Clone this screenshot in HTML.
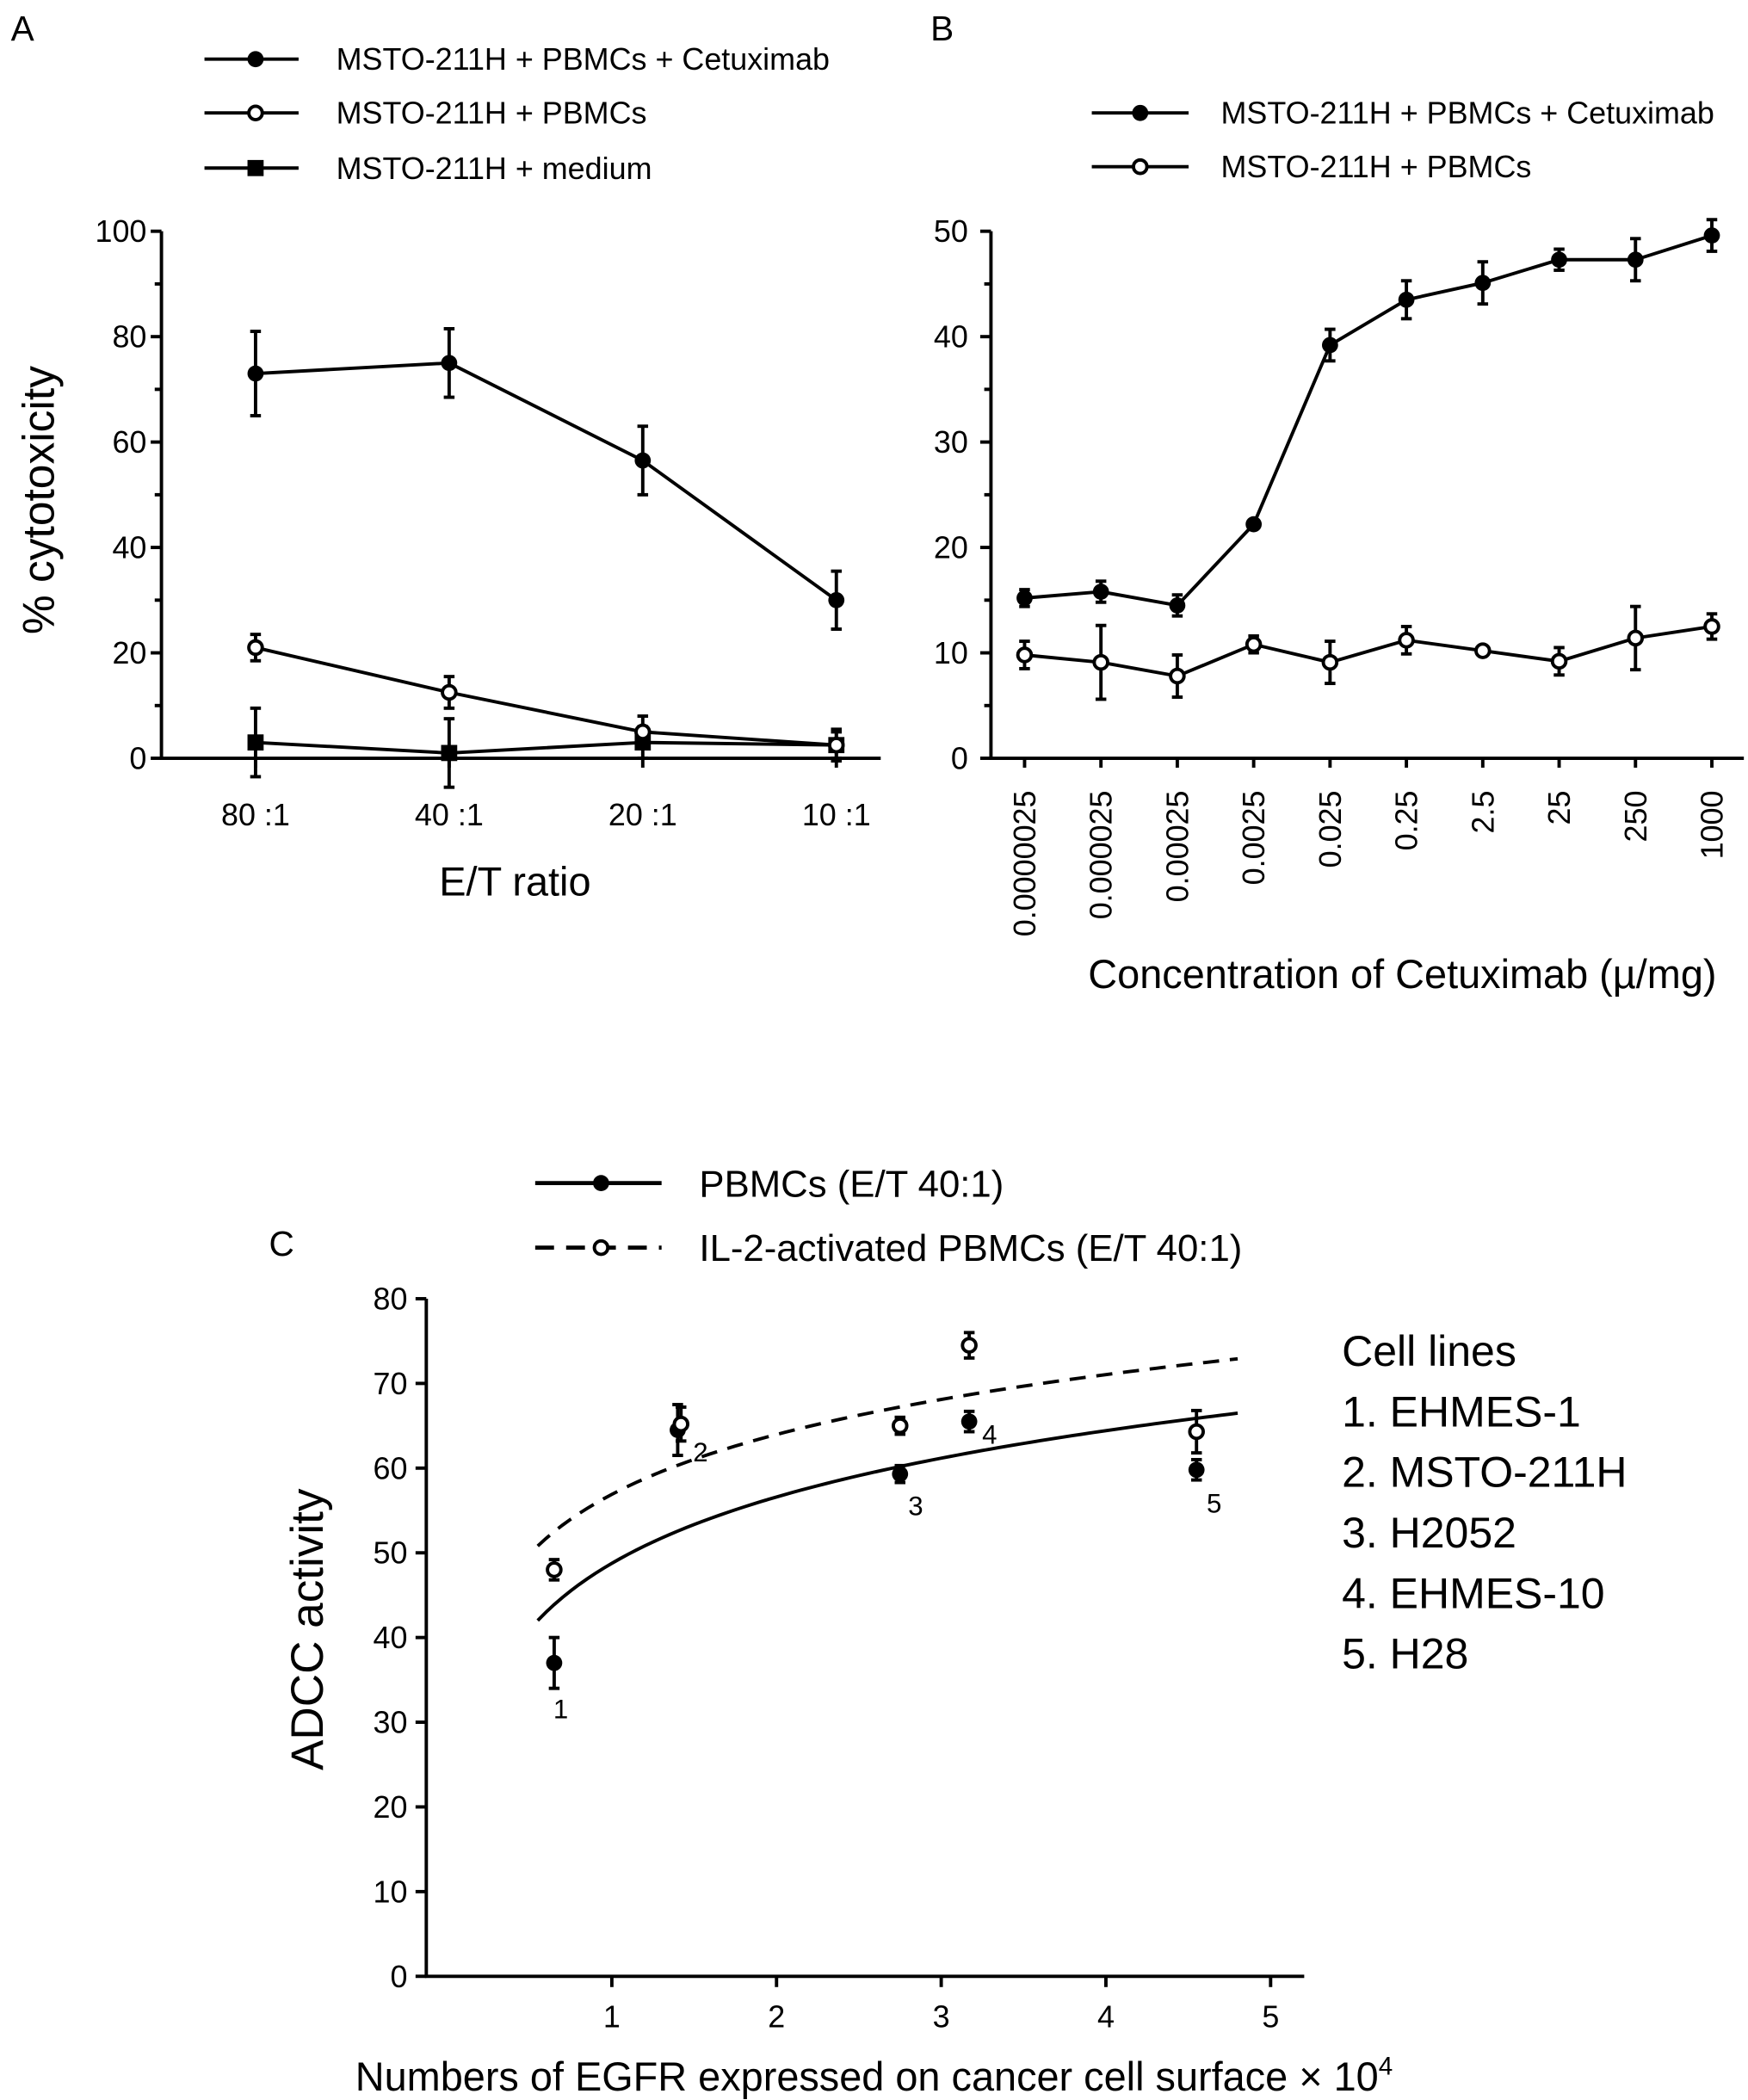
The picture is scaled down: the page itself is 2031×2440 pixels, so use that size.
<!DOCTYPE html>
<html><head><meta charset="utf-8"><style>
html,body{margin:0;padding:0;background:#fff}
svg{display:block;font-family:"Liberation Sans",sans-serif}
</style></head><body>
<svg id="fig" width="2031" height="2440" viewBox="0 0 1300 1562" xmlns="http://www.w3.org/2000/svg">
<g id="root"></g>
</svg>
<script>
// Panel A data
const aCats = ["80 :1","40 :1","20 :1","10 :1"];
const aCetux = [73,75,56.5,30];
const aCetuxErr = [8,6.5,6.5,5.5];
const aPbmc = [21,12.5,5,2.5];
const aPbmcErr = [2.5,3,3,2.5];
const aMed = [3,1,3,2.5];
const aMedErr = [6.5,6.5,3,3];
const aTicks = [0,20,40,60,80,100];
// Panel B data
const bCats = ["0.0000025","0.000025","0.00025","0.0025","0.025","0.25","2.5","25","250","1000"];
const bCetux = [15.2,15.8,14.5,22.2,39.2,43.5,45.1,47.3,47.3,49.6];
const bCetuxErr = [0.8,1,1,0,1.5,1.8,2,1,2,1.5];
const bPbmc = [9.8,9.1,7.8,10.8,9.1,11.2,10.2,9.2,11.4,12.5];
const bPbmcErr = [1.3,3.5,2,0.8,2,1.3,0.3,1.3,3,1.2];
const bTicks = [0,10,20,30,40,50];
// Panel C data
const cX = [0.65,1.4,2.75,3.17,4.55];
const cPbmc = [37,64.5,59.3,65.5,59.8];
const cPbmcErr = [3,3,1,1.2,1.2];
const cX2 = [0.65,1.42,2.75,3.17,4.55];
const cIl2 = [48,65.2,65,74.5,64.3];
const cIl2Err = [1.2,2,1,1.5,2.5];
const cFitSolid = [48.76,11.3];
const cFitDash = [56.9,10.2];
const cYTicks = [0,10,20,30,40,50,60,70,80];
const cXTicks = [1,2,3,4,5];
const cellLines = ["1. EHMES-1","2. MSTO-211H","3. H2052","4. EHMES-10","5. H28"];

const NS="http://www.w3.org/2000/svg";
const root=document.getElementById('root');
function el(tag,attrs,text){const e=document.createElementNS(NS,tag);for(const k in attrs)e.setAttribute(k,attrs[k]);if(text!==undefined)e.textContent=text;root.appendChild(e);return e;}
function line(x1,y1,x2,y2,w,dash){return el('line',{x1,y1,x2,y2,stroke:'#000','stroke-width':w||2.5,'stroke-dasharray':dash||'none'});}
function txt(x,y,s,size,anchor,rot){const a={x,y,'font-size':size,'text-anchor':anchor||'start',fill:'#000'};if(rot)a.transform=`rotate(${rot} ${x} ${y})`;return el('text',a,s);}
function marker(x,y,type){
  if(type==='filled')return el('circle',{cx:x,cy:y,r:6,fill:'#000'});
  if(type==='open')return el('circle',{cx:x,cy:y,r:5,fill:'#fff',stroke:'#000','stroke-width':2.5});
  return el('rect',{x:x-6,y:y-6,width:12,height:12,fill:'#000'});
}
function errbar(x,y,e,sy){if(e<=0)return;const y1=sy(y-e),y2=sy(y+e);line(x,y1,x,y2,2.5);line(x-4,y1,x+4,y1,2.5);line(x-4,y2,x+4,y2,2.5);}
function series(xs,ys,es,sx,sy,type,name){
  const pts=ys.map((v,i)=>sx(i)+','+sy(v)).join(' ');
  const p=el('polyline',{points:pts,fill:'none',stroke:'#000','stroke-width':2.5});
  
  
  ys.forEach((v,i)=>{errbar(sx(i),v,es[i],sy);const m=marker(sx(i),sy(v),type);
    
    });
}

// ---------- Panel A ----------
txt(8,30,"A",26);
const axA=x=>190+x*144;
const syA=v=>564-v*3.92;
line(120,172,120,565);line(119,564,655,564);
aTicks.forEach(t=>{line(112,syA(t),120,syA(t));txt(109,syA(t)+8,String(t),23,'end');});
[10,30,50,70,90].forEach(t=>line(115,syA(t),120,syA(t)));
aCats.forEach((c,i)=>{line(axA(i),564,axA(i),571);txt(axA(i),614,c,23,'middle');});
txt(383,666,"E/T ratio",30,'middle');
txt(40,372,"% cytotoxicity",33,'middle',-90);
series(null,aMed,aMedErr,axA,syA,'square','a-medium');
series(null,aPbmc,aPbmcErr,axA,syA,'open','a-pbmc');
series(null,aCetux,aCetuxErr,axA,syA,'filled','a-cetuximab');
[["MSTO-211H + PBMCs + Cetuximab",'filled',44],["MSTO-211H + PBMCs",'open',84],["MSTO-211H + medium",'square',125]].forEach(([s,t,y])=>{
  line(152,y,222,y);marker(190,y,t);const tt=txt(250,y+8,s,23);
  
  
});

// ---------- Panel B ----------
txt(692,30,"B",26);
const sxB=i=>762+i*56.8;
const syB=v=>564-v*7.84;
line(737,172,737,565);line(736,564,1297,564);
bTicks.forEach(t=>{line(729,syB(t),737,syB(t));txt(720,syB(t)+8,String(t),23,'end');});
[5,15,25,35,45].forEach(t=>line(732,syB(t),737,syB(t)));
bCats.forEach((c,i)=>{line(sxB(i),564,sxB(i),571);txt(sxB(i)+8,588,c,23,'end',-90);});
txt(1043,735,"Concentration of Cetuximab (µ/mg)",30,'middle');
series(null,bPbmc,bPbmcErr,sxB,syB,'open','b-pbmc');
series(null,bCetux,bCetuxErr,sxB,syB,'filled','b-cetuximab');
[["MSTO-211H + PBMCs + Cetuximab",'filled',84],["MSTO-211H + PBMCs",'open',124]].forEach(([s,t,y])=>{
  line(812,y,884,y);marker(848,y,t);const tt=txt(908,y+8,s,23);
  
  
});

// ---------- Panel C ----------
txt(200,934,"C",26);
const sxC=v=>332.5+v*122.5;
const syC=v=>1470-v*6.3;
line(317,966,317,1471);line(316,1470,970,1470);
cYTicks.forEach(t=>{line(309,syC(t),317,syC(t));txt(303,syC(t)+8,String(t),23,'end');});
cXTicks.forEach(t=>{line(sxC(t),1470,sxC(t),1478);txt(sxC(t),1508,String(t),23,'middle');});
const xt=txt(650,1555,"Numbers of EGFR expressed on cancer cell surface × 10",30,'middle');
const sup=document.createElementNS(NS,'tspan');sup.setAttribute('dy','-12');sup.setAttribute('font-size','19');sup.textContent='4';xt.appendChild(sup);
txt(240,1212,"ADCC activity",34,'middle',-90);
function fit(ab,dash,name){let pts=[];for(let x=0.55;x<=4.801;x+=0.05){pts.push(sxC(x)+','+syC(ab[0]+ab[1]*Math.log(x)));}
  const p=el('polyline',{points:pts.join(' '),fill:'none',stroke:'#000','stroke-width':2.5,'stroke-dasharray':dash||'none'});
  
  }
fit(cFitSolid,null,'pbmc-fit-curve');
fit(cFitDash,'12 8','il2-fit-curve');
cX.forEach((x,i)=>{errbar(sxC(x),cPbmc[i],cPbmcErr[i],syC);const m=marker(sxC(x),syC(cPbmc[i]),'filled');
  
  });
cX2.forEach((x,i)=>{errbar(sxC(x),cIl2[i],cIl2Err[i],syC);const m=marker(sxC(x),syC(cIl2[i]),'open');
  
  });
[[417,1278,"1"],[521,1087,"2"],[681,1127,"3"],[736,1074,"4"],[903,1125,"5"]].forEach(a=>txt(a[0],a[1],a[2],20,'middle'));
line(398,880,492,880,3);marker(447,880,'filled');txt(520,890,"PBMCs (E/T 40:1)",28);
line(398,928,492,928,3,'14 9');marker(447,928,'open');txt(520,938,"IL-2-activated PBMCs (E/T 40:1)",28);
txt(998,1016,"Cell lines",32);
cellLines.forEach((s,i)=>{const t=txt(998,1061+i*45,s,32);
  
  });
</script>
</body></html>
